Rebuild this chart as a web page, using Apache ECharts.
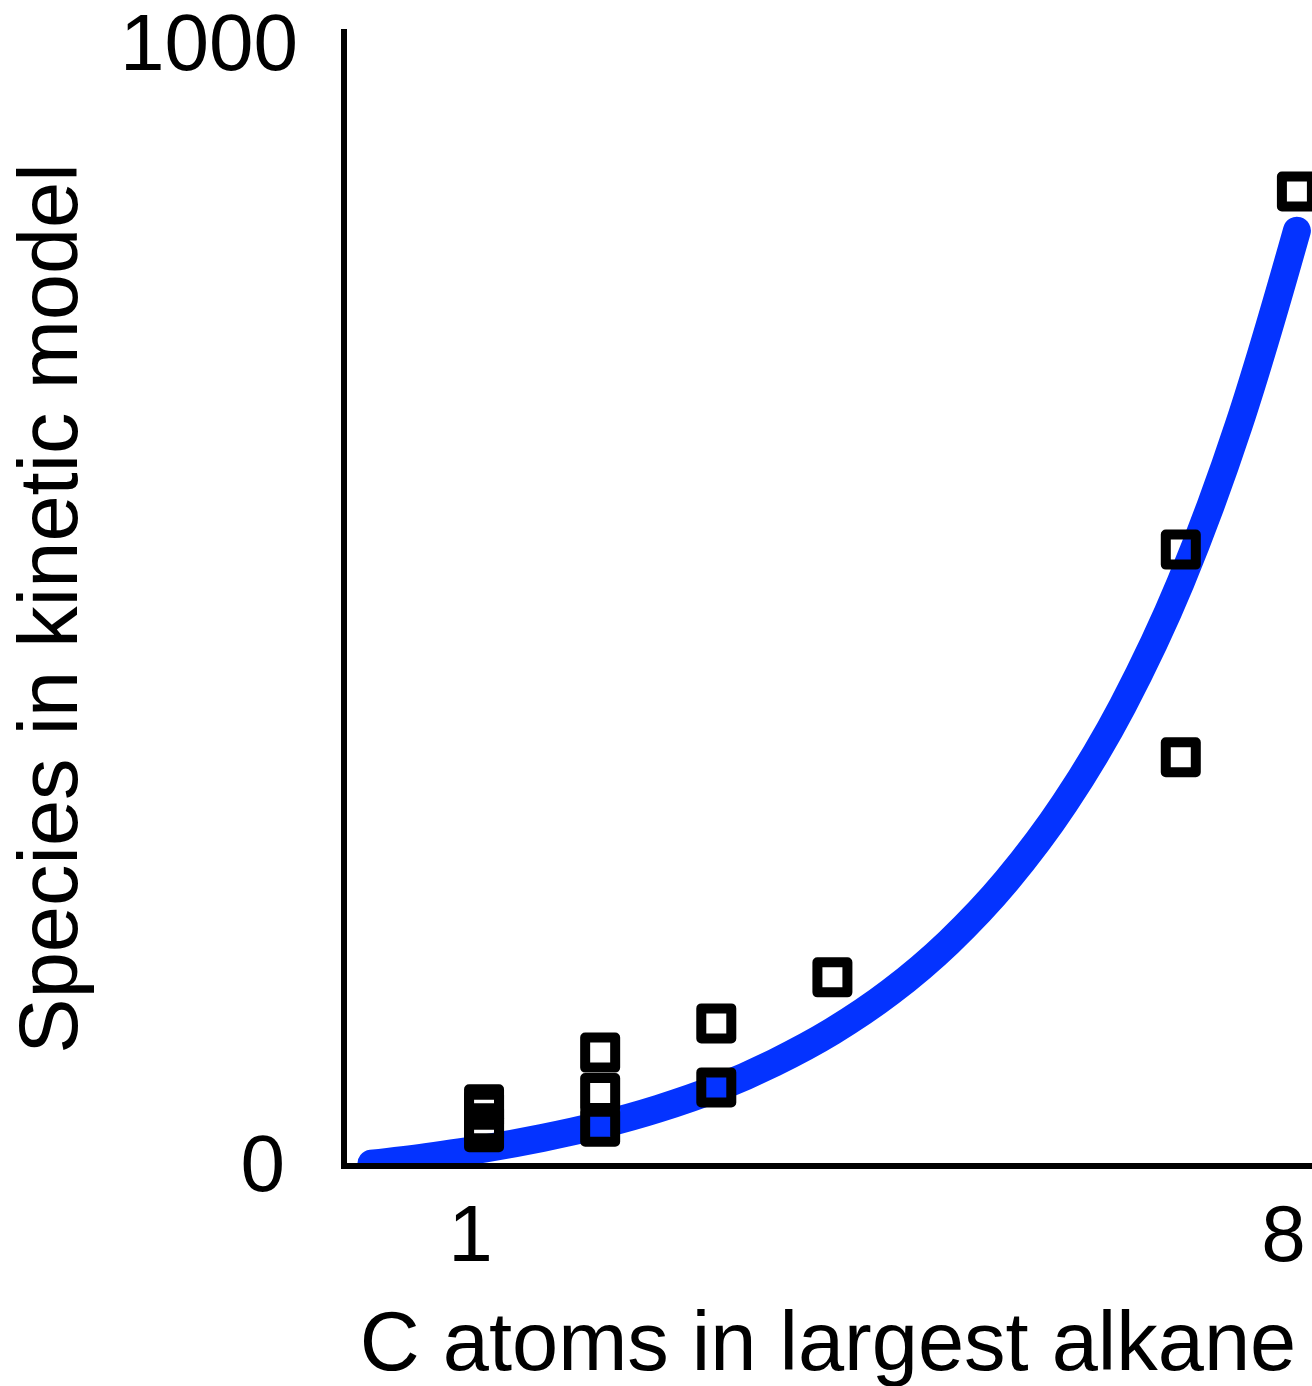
<!DOCTYPE html>
<html>
<head>
<meta charset="utf-8">
<title>Species in kinetic model vs. C atoms in largest alkane</title>
<script src="https://cdn.jsdelivr.net/npm/echarts@6/dist/echarts.min.js"></script>
<style>
  html, body { margin: 0; padding: 0; background: #ffffff; }
  #chart { width: 1312px; height: 1386px; }
</style>
</head>
<body>
<div id="chart"></div>
<script>
// Kinetic model sizes (species count) against largest alkane carbon number
const modelCarbons = [1, 1, 1, 1, 2, 2, 2, 3, 3, 4, 7, 7, 8];
const modelSpecies = [55, 50, 38, 30, 101, 65, 35, 127, 70, 168, 549, 364, 868];

// Trend curve through the models
const trendCarbons = [0.03, 0.5, 1, 1.5, 2, 2.5, 3, 3.5, 4, 4.5, 5, 5.5, 6, 6.5, 7, 7.5, 8];
const trendSpecies = [2, 8, 15.5, 25, 36.5, 51, 69, 92, 120, 155, 199, 254, 323, 410, 520, 660, 833];

// Axis tick labels
const xTickValues = [1, 8];
const yTickValues = [0, 1000];

const FONT = '"Liberation Sans", Arial, Helvetica, sans-serif';
const LABEL_SIZE = 80;
const NAME_SIZE = 83;
const BLUE = '#0433ff';

const scatterData = modelCarbons.map((c, i) => [c, modelSpecies[i]]);
const trendData = trendCarbons.map((c, i) => [c, trendSpecies[i]]);

const chart = echarts.init(document.getElementById('chart'), null, { renderer: 'canvas' });

const labelFont = { fontFamily: FONT, fontSize: LABEL_SIZE, color: '#000' };

chart.setOption({
  animation: false,
  backgroundColor: '#ffffff',
  grid: { left: 344, right: 0, top: 32, bottom: 220, outerBoundsMode: 'none' },
  xAxis: {
    type: 'value',
    min: -0.206,
    max: 8.13,
    z: 10,
    name: 'C atoms in largest alkane',
    nameLocation: 'middle',
    nameGap: 140,
    nameTextStyle: { fontFamily: FONT, fontSize: NAME_SIZE, color: '#000' },
    axisLine: { show: true, onZero: false, lineStyle: { color: '#000', width: 6, cap: 'square' } },
    axisTick: { show: false },
    splitLine: { show: false },
    axisLabel: Object.assign({
      customValues: xTickValues,
      margin: 33,
      padding: [0, 27, 0, 0]
    }, labelFont)
  },
  yAxis: {
    type: 'value',
    min: 0,
    max: 1010,
    z: 10,
    name: 'Species in kinetic model',
    nameLocation: 'middle',
    nameGap: 248,
    nameTextStyle: { fontFamily: FONT, fontSize: NAME_SIZE, color: '#000', padding: [0, 19, 0, 0] },
    axisLine: { show: true, onZero: false, lineStyle: { color: '#000', width: 6, cap: 'square' } },
    axisTick: { show: false },
    splitLine: { show: false },
    axisLabel: Object.assign({
      customValues: yTickValues,
      margin: 46,
      formatter: v => (v === 0 ? '{z|0}' : '{k|' + v + '}'),
      rich: {
        z: Object.assign({ padding: [6, 13, 0, 0] }, labelFont),
        k: Object.assign({ padding: [10, 0, 0, 0] }, labelFont)
      }
    }, labelFont)
  },
  series: [
    {
      // thick trend curve, clipped to the plot area
      type: 'custom',
      clip: true,
      z: 2,
      data: trendData,
      renderItem: (params, api) => {
        if (params.dataIndex !== 0) return null;
        const pts = trendData.map(p => api.coord(p));
        return {
          type: 'polyline',
          shape: { points: pts, smooth: 0.35 },
          style: {
            stroke: BLUE,
            lineWidth: 28,
            lineCap: 'round',
            lineJoin: 'round',
            fill: null
          }
        };
      }
    },
    {
      type: 'scatter',
      z: 5,
      data: scatterData,
      symbol: 'rect',
      symbolSize: 30,
      itemStyle: {
        color: 'rgba(0,0,0,0)',
        opacity: 1,
        borderColor: '#000',
        borderWidth: 10,
        borderJoin: 'round'
      }
    }
  ]
});
</script>
</body>
</html>
